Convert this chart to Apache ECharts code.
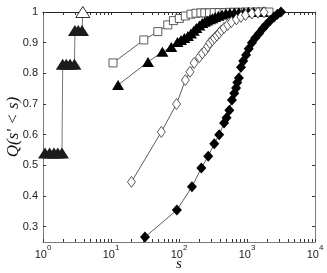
<!DOCTYPE html>
<html lang="en">
<head>
<meta charset="UTF-8">
<title>Q(s' < s)</title>
<script src="https://cdn.jsdelivr.net/npm/echarts@6/dist/echarts.min.js"></script>
</head>
<body style="margin:0;background:#fff">
<div id="main" style="width:327px;height:273px;"></div>
<script type="text/javascript">
// big filled triangles at small s (steps), last point is the open triangle at Q=1
var stepS = [1.07, 1.25, 1.45, 1.65, 1.9, 1.95, 2.2, 2.5, 2.9, 2.95, 3.3, 3.75, 3.85];
var stepQ = [0.54, 0.54, 0.54, 0.54, 0.54, 0.83, 0.83, 0.83, 0.83, 0.94, 0.94, 0.94, 1.0];
// open squares
var sqS = [10.7, 30.4, 48.8, 68.4, 82.8, 101, 124, 150, 178, 210, 240, 280, 330, 390, 460, 550, 650, 780, 950, 1150, 1400, 1700, 2100];
var sqQ = [0.834, 0.909, 0.936, 0.958, 0.972, 0.979, 0.987, 0.993, 0.996, 0.997, 0.997, 0.997, 0.998, 0.998, 0.998, 0.999, 0.999, 0.999, 1.0, 1.0, 1.0, 1.0, 1.0];
// filled triangles
var triS = [12.7, 35, 57, 77, 95, 107, 120, 135, 150, 165, 180, 200, 220, 240, 260, 285, 310, 340, 380, 430, 490, 560, 650, 760, 900, 1050, 1250, 1450, 1700];
var triQ = [0.762, 0.837, 0.870, 0.886, 0.902, 0.909, 0.915, 0.922, 0.930, 0.939, 0.948, 0.956, 0.964, 0.968, 0.972, 0.976, 0.980, 0.984, 0.988, 0.992, 0.995, 0.997, 0.998, 0.999, 0.999, 1.0, 1.0, 1.0, 1.0];
// open diamonds
var odS = [20, 55, 92, 124, 145, 167, 200, 220, 245, 265, 283, 310, 333, 360, 390, 420, 460, 520, 590, 700, 815, 950, 1180, 1450, 1780];
var odQ = [0.446, 0.609, 0.700, 0.778, 0.805, 0.834, 0.853, 0.865, 0.876, 0.888, 0.899, 0.908, 0.915, 0.923, 0.931, 0.940, 0.948, 0.958, 0.967, 0.976, 0.984, 0.990, 0.995, 0.998, 0.999];
// filled diamonds
var fdS = [31.6, 93, 155, 213, 269, 330, 390, 460, 500, 550, 600, 650, 690, 720, 760, 815, 880, 970, 1060, 1180, 1320, 1500, 1700, 1900, 2200, 2500, 2800, 3160];
var fdQ = [0.266, 0.354, 0.430, 0.491, 0.530, 0.570, 0.600, 0.638, 0.655, 0.680, 0.713, 0.735, 0.752, 0.770, 0.785, 0.820, 0.840, 0.860, 0.880, 0.900, 0.915, 0.930, 0.945, 0.958, 0.972, 0.984, 0.993, 1.0];

var xTicks = [1, 10, 100, 1000, 10000];
var yTicks = [0.3, 0.4, 0.5, 0.6, 0.7, 0.8, 0.9, 1];

function pairs(xs, ys) {
    var out = [];
    for (var i = 0; i < xs.length; i++) out.push([xs[i], ys[i]]);
    return out;
}

var xMinor = [];
for (var d = 0; d < xTicks.length - 1; d++) {
    for (var k = 2; k <= 9; k++) xMinor.push(xTicks[d] * k);
}
var xAllTicks = xTicks.concat(xMinor);

var stepData = pairs(stepS, stepQ);
stepData[stepData.length - 1] = {
    value: stepData[stepData.length - 1],
    itemStyle: {color: '#fff', borderColor: '#000', borderWidth: 0.8}
};

var axisCol = '#7a7a7a';
var lbl = {color: '#222', fontSize: 11, fontFamily: 'Liberation Sans'};

let myChart = echarts.init(document.getElementById('main'), null, {renderer: 'canvas'});
option = {
    animation: false,
    backgroundColor: '#fff',
    grid: {left: 43, right: 12, top: 12, bottom: 31, outerBoundsMode: 'none', containLabel: false},
    xAxis: [{
        type: 'log', logBase: 10, min: 1, max: 10000,
        position: 'bottom',
        name: 's', nameLocation: 'middle', nameGap: 15, nameMoveOverlap: false,
        nameTextStyle: {fontFamily: 'Liberation Serif', fontStyle: 'italic', fontSize: 15, color: '#111'},
        axisLine: {lineStyle: {color: axisCol, width: 1}},
        axisTick: {inside: true, length: 3, customValues: xAllTicks, lineStyle: {color: '#333'}},
        axisLabel: {
            customValues: xTicks, margin: 2,
            formatter: function (v) { return '{b|10}{sup|' + Math.round(Math.log10(v)) + '}'; },
            rich: {
                b: {fontSize: 11, lineHeight: 16, verticalAlign: 'bottom', fontFamily: 'Liberation Sans', color: '#222'},
                sup: {fontSize: 8, lineHeight: 8, verticalAlign: 'top', fontFamily: 'Liberation Sans', color: '#222'}
            }
        },
        splitLine: {show: false}
    }, {
        type: 'log', logBase: 10, min: 1, max: 10000,
        position: 'top',
        axisLine: {lineStyle: {color: '#222', width: 1}},
        axisTick: {inside: true, length: 3, customValues: xAllTicks, lineStyle: {color: '#333'}},
        axisLabel: {show: false},
        splitLine: {show: false}
    }],
    yAxis: [{
        type: 'value', min: 0.25, max: 1,
        position: 'left',
        name: "Q(s' < s)", nameLocation: 'middle', nameGap: 21, nameMoveOverlap: false,
        nameTextStyle: {fontFamily: 'Liberation Serif', fontStyle: 'italic', fontSize: 17, color: '#111'},
        axisLine: {lineStyle: {color: axisCol, width: 1}},
        axisTick: {inside: true, length: 3, customValues: yTicks, lineStyle: {color: '#333'}},
        axisLabel: Object.assign({customValues: yTicks, margin: 5,
            formatter: function (v) { return v === 1 ? '1' : v.toFixed(1); }}, lbl),
        splitLine: {show: false}
    }, {
        type: 'value', min: 0.25, max: 1,
        position: 'right',
        axisLine: {lineStyle: {color: axisCol, width: 1}},
        axisTick: {inside: true, length: 3, customValues: yTicks, lineStyle: {color: '#333'}},
        axisLabel: {show: false},
        splitLine: {show: false}
    }],
    series: [
        {
            name: 'steps', type: 'line', data: stepData,
            symbol: 'triangle', symbolSize: [14, 11],
            itemStyle: {color: '#1c1c1c'},
            lineStyle: {color: '#777', width: 1}
        },
        {
            name: 'open squares', type: 'line', data: pairs(sqS, sqQ),
            symbol: 'rect', symbolSize: 8,
            itemStyle: {color: '#fff', borderColor: '#333', borderWidth: 0.8},
            lineStyle: {color: '#333', width: 0.8}
        },
        {
            name: 'filled triangles', type: 'line', data: pairs(triS, triQ),
            symbol: 'triangle', symbolSize: [12, 10],
            itemStyle: {color: '#000'},
            lineStyle: {color: '#333', width: 0.8}
        },
        {
            name: 'open diamonds', type: 'line', data: pairs(odS, odQ),
            symbol: 'diamond', symbolSize: [8, 11],
            itemStyle: {color: '#fff', borderColor: '#333', borderWidth: 0.8},
            lineStyle: {color: '#333', width: 0.8}
        },
        {
            name: 'filled diamonds', type: 'line', data: pairs(fdS, fdQ),
            symbol: 'diamond', symbolSize: [10, 11],
            itemStyle: {color: '#000'},
            lineStyle: {color: '#333', width: 0.8}
        }
    ]
};
myChart.setOption(option);
</script>
</body>
</html>
